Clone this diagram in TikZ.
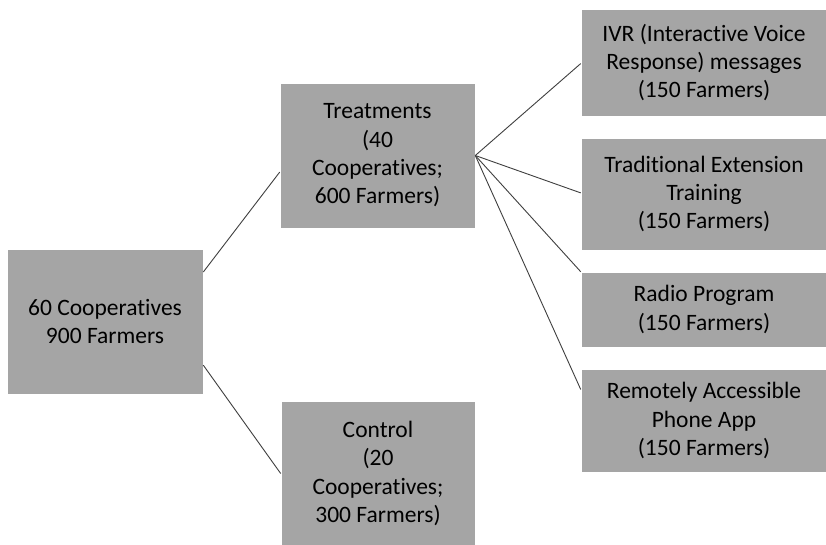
\documentclass[tikz,border=0pt]{standalone}
\usepackage{fontspec}
\setmainfont{Carlito}[Ligatures={NoCommon}]
\usetikzlibrary{calc}
\definecolor{boxgray}{HTML}{A5A5A5}
\definecolor{linegray}{HTML}{3F3F3F}
\tikzset{
  box/.style={fill=boxgray, draw=white, line width=0.6pt, inner sep=0pt, align=center,
    font=\fontsize{23.5}{28.3}\selectfont, text=black},
  conn/.style={draw=linegray, line width=0.9pt}
}
\begin{document}
\begin{tikzpicture}[x=1pt, y=-1pt]
\useasboundingbox (0,0) rectangle (826,544);
\fill[white] (0,0) rectangle (826,544);
% boxes: center x, center y, width, height
\node[box, minimum width=196pt, minimum height=145pt] (root) at (105,321.5) {60 Cooperatives\\900 Farmers};
\node[box, minimum width=195pt, minimum height=145pt] (treat) at (377.5,155.5) {Treatments\\(40\\Cooperatives;\\600 Farmers)};
\node[box, minimum width=194pt, minimum height=145pt] (ctrl) at (378,473.5) {Control\\(20\\Cooperatives;\\300 Farmers)};
\node[box, minimum width=246pt, minimum height=107pt] (ivr) at (704,62.5) {IVR (Interactive Voice\\Response) messages\\(150 Farmers)};
\node[box, minimum width=246pt, minimum height=112pt] (trad) at (704,194) {Traditional Extension\\Training\\(150 Farmers)};
\node[box, minimum width=246pt, minimum height=75pt] (radio) at (704,309.5) {Radio Program\\(150 Farmers)};
\node[box, minimum width=246pt, minimum height=103pt] (remote) at (704,420.5) {Remotely Accessible\\Phone App\\(150 Farmers)};
% connectors
\draw[conn] ($(root.north east)!0.16!(root.south east)$) -- ($(treat.north west)!0.614!(treat.south west)$);
\draw[conn] ($(root.north east)!0.8!(root.south east)$) -- (ctrl.west);
\draw[conn] (treat.east) -- ($(ivr.north west)!0.51!(ivr.south west)$);
\draw[conn] (treat.east) -- ($(trad.north west)!0.49!(trad.south west)$);
\draw[conn] (treat.east) -- (radio.north west);
\draw[conn] (treat.east) -- ($(remote.north west)!0.2!(remote.south west)$);
\end{tikzpicture}
\end{document}
